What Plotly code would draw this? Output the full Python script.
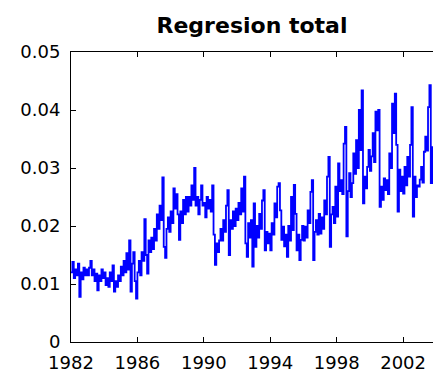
import plotly.graph_objects as go

start_year = 1982
values_1982_1987 = [
    12.0, 13.8, 11.0, 12.5, 11.5, 13.5, 7.8, 12.0, 10.8, 12.8, 11.5, 12.5,
    11.5, 12.8, 14.0, 11.5, 12.5, 10.5, 11.8, 8.9, 11.5, 10.5, 12.5, 11.0,
    12.0, 9.8, 11.0, 9.5, 12.0, 10.5, 13.2, 8.7, 10.5, 9.5, 11.5, 10.5,
    13.0, 11.5, 14.0, 12.0, 15.3, 12.5, 17.5, 8.7, 13.5, 15.5, 10.5, 7.5,
    12.0, 14.0, 11.5, 15.5, 14.0, 21.2, 15.0, 11.8, 17.5, 15.5, 18.0, 16.0,
    19.5, 17.5, 22.0, 19.5, 23.5, 21.0, 28.4, 16.4, 14.5, 19.5, 21.5, 19.0,
]
values_1988_1993 = [
    22.5, 20.5, 26.5, 23.0, 25.5, 22.0, 17.6, 22.5, 20.5, 24.5, 22.0, 25.0,
    22.5, 25.0, 23.5, 27.0, 24.5, 30.0, 23.5, 25.0, 22.0, 24.5, 27.0, 23.5,
    24.0, 21.5, 25.0, 23.0, 24.5, 22.5, 27.0, 18.5, 13.3, 17.0, 15.5, 17.5,
    19.5, 17.5, 21.0, 19.0, 23.5, 26.2, 15.0, 21.0, 19.5, 22.5, 20.0, 23.0,
    21.0, 24.0, 22.0, 26.5, 22.5, 28.5, 17.0, 14.7, 20.5, 18.0, 21.0, 13.0,
    23.9, 16.4, 20.0, 18.0, 22.1, 19.5, 24.4, 26.2, 15.8, 19.0, 17.0, 18.7,
]
values_1994_1999 = [
    15.8, 20.5, 18.5, 23.9, 21.5, 26.8, 27.4, 22.7, 17.6, 19.9, 16.5, 18.5,
    14.7, 20.0, 17.5, 25.0, 19.3, 27.1, 22.1, 15.8, 18.5, 14.1, 17.6, 20.0,
    17.5, 19.9, 18.0, 22.7, 20.5, 25.9, 27.9, 14.1, 19.0, 21.0, 18.5, 22.1,
    18.7, 21.5, 19.5, 24.4, 22.0, 28.5, 31.9, 16.4, 22.0, 23.3, 20.5, 26.8,
    21.6, 30.8, 26.0, 27.9, 25.5, 34.2, 37.1, 18.2, 26.0, 29.1, 25.0, 27.4,
    32.5, 29.0, 34.8, 30.0, 40.0, 33.1, 43.4, 23.9, 28.5, 26.5, 30.2, 33.1,
]
values_2000_2003 = [
    29.5, 32.0, 36.0, 31.0, 39.7, 36.5, 40.0, 23.3, 26.8, 24.5, 28.2, 26.2,
    27.9, 25.5, 32.5, 30.0, 41.1, 36.0, 42.8, 34.0, 22.5, 29.7, 26.0, 28.5,
    25.6, 30.2, 27.0, 31.9, 28.5, 34.0, 40.5, 21.6, 28.5, 25.0, 27.0, 26.8,
    28.0, 30.2, 27.5, 32.8, 35.4, 33.0, 40.5, 44.3, 27.4, 33.6, 31.9, 34.8,
]
x_tick_vals = [1982, 1986, 1990, 1994, 1998, 2002]
y_tick_vals = [0, 0.01, 0.02, 0.03, 0.04, 0.05]
y_tick_text = ["0", "0.01", "0.02", "0.03", "0.04", "0.05"]

thousandths = values_1982_1987 + values_1988_1993 + values_1994_1999 + values_2000_2003
y = [v / 1000.0 for v in thousandths]
x = [start_year + i / 12.0 for i in range(len(y))]

fig = go.Figure()
fig.add_trace(go.Scatter(x=x, y=y, mode="lines", line=dict(color="#0000FF", width=1.8, shape="hv"),
                         showlegend=False, hoverinfo="skip"))

tick_font = dict(family="DejaVu Sans", size=18, color="black")
fig.update_layout(
    width=433, height=374,
    margin=dict(l=71, r=0, t=52, b=32),
    paper_bgcolor="white", plot_bgcolor="white",
    title=dict(text="<b>Regresion total</b>", x=0.5, xref="paper", xanchor="center",
               y=1 - 25 / 374, yref="container", yanchor="middle",
               font=dict(family="DejaVu Sans", size=22, color="black")),
    xaxis=dict(range=[1982, 2003.8], tickvals=x_tick_vals, ticktext=[str(v) for v in x_tick_vals],
               ticks="inside", ticklen=5, tickcolor="black", showline=True, linecolor="black",
               linewidth=1, mirror="ticks", showgrid=False, zeroline=False, tickfont=tick_font,
               ticklabelstandoff=4),
    yaxis=dict(range=[0, 0.05], tickvals=y_tick_vals, ticktext=y_tick_text,
               ticks="inside", ticklen=5, tickcolor="black", showline=True, linecolor="black",
               linewidth=1, showgrid=False, zeroline=False, tickfont=tick_font,
               ticklabelstandoff=6),
)
fig.write_html("out.html")
